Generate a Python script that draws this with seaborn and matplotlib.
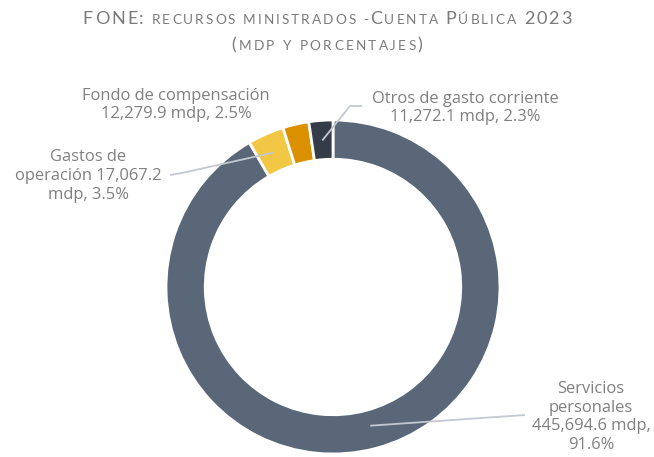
import matplotlib
matplotlib.use("Agg")
import matplotlib.pyplot as plt
import seaborn as sns
import numpy as np

# data
categories = ["Servicios personales", "Gastos de operación",
              "Fondo de compensación", "Otros de gasto corriente"]
amounts = [445694.6, 17067.2, 12279.9, 11272.1]
shares = [91.6, 3.5, 2.5, 2.3]
label_texts = ["Servicios\npersonales\n445,694.6 mdp,\n91.6%",
               "Gastos de\noperación 17,067.2\nmdp, 3.5%",
               "Fondo de compensación\n12,279.9 mdp, 2.5%",
               "Otros de gasto corriente\n11,272.1 mdp, 2.3%"]
colors = ["#596779", "#F2C744", "#DB9000", "#343C48"]

sns.set_theme(style="white")
plt.rcParams["font.family"] = ["Open Sans", "DejaVu Sans"]

W, H = 654, 457
fig = plt.figure(figsize=(W / 100, H / 100), dpi=100)

# pie centre / radius in pixels
cx, cy, R = 333, 287, 167
ax = fig.add_axes([(cx - R) / W, (H - cy - R) / H, 2 * R / W, 2 * R / H])

wedges, _ = ax.pie(amounts, colors=colors, startangle=90, counterclock=False,
                   radius=1, wedgeprops=dict(width=0.235, edgecolor="white", linewidth=2))
ax.set_xlim(-1, 1)
ax.set_ylim(-1, 1)
ax.set_aspect("equal")
ax.axis("off")


def px(x, y):
    return (x - cx) / R, (cy - y) / R


def mid(w, r=0.88):
    a = np.deg2rad((w.theta1 + w.theta2) / 2)
    return r * np.cos(a), r * np.sin(a)


txt_kw = dict(color="#808080", fontsize=11.9, ha="center", va="center",
              linespacing=1.22, clip_on=False)
line_kw = dict(color="#C3C8D1", lw=1.3, clip_on=False, solid_capstyle="butt")

# Servicios personales
ax.text(*px(591, 417), label_texts[0], **txt_kw)
p0 = px(525, 415)
m = mid(wedges[0], 0.86)
ax.plot([p0[0], m[0]], [p0[1], m[1]], **line_kw)

# Gastos de operación
ax.text(*px(88, 176), label_texts[1], **txt_kw)
a, b = px(170, 175), px(182, 173)
m = mid(wedges[1])
ax.plot([a[0], b[0], m[0]], [a[1], b[1], m[1]], **line_kw)

# Fondo de compensación
ax.text(*px(176, 105), label_texts[2], **txt_kw)

# Otros de gasto corriente
ax.text(*px(465, 108), label_texts[3], **txt_kw)
a, b = px(362, 106), px(350, 106)
m = mid(wedges[3])
ax.plot([a[0], b[0], m[0]], [a[1], b[1], m[1]], **line_kw)

# title in small caps with letter spacing
BIG, SMALL = 13, 9.8
title1 = [("FONE:", BIG), (" RECURSOS MINISTRADOS -", SMALL), ("C", BIG),
          ("UENTA ", SMALL), ("P", BIG), ("ÚBLICA ", SMALL), ("2023", BIG)]
title2 = [("(", BIG), ("MDP Y PORCENTAJES", SMALL), (")", BIG)]
renderer = fig.canvas.get_renderer()


def spaced_line(parts, ybase, track):
    items = []
    for s, size in parts:
        for ch in s:
            if ch == " ":
                items.append((None, size * 0.38))
                continue
            t = fig.text(0, ybase / H, ch, fontsize=size, family="Lato",
                         color="#7A7A7A", va="baseline", ha="left")
            items.append((t, t.get_window_extent(renderer).width))
    total = sum(w for _, w in items) + track * (len(items) - 1)
    x = (W - total) / 2
    for t, w in items:
        if t is not None:
            t.set_x(x / W)
        x += w + track


spaced_line(title1, H - 24, 2.0)
spaced_line(title2, H - 50, 2.3)

fig.savefig("out.png", dpi=100)
